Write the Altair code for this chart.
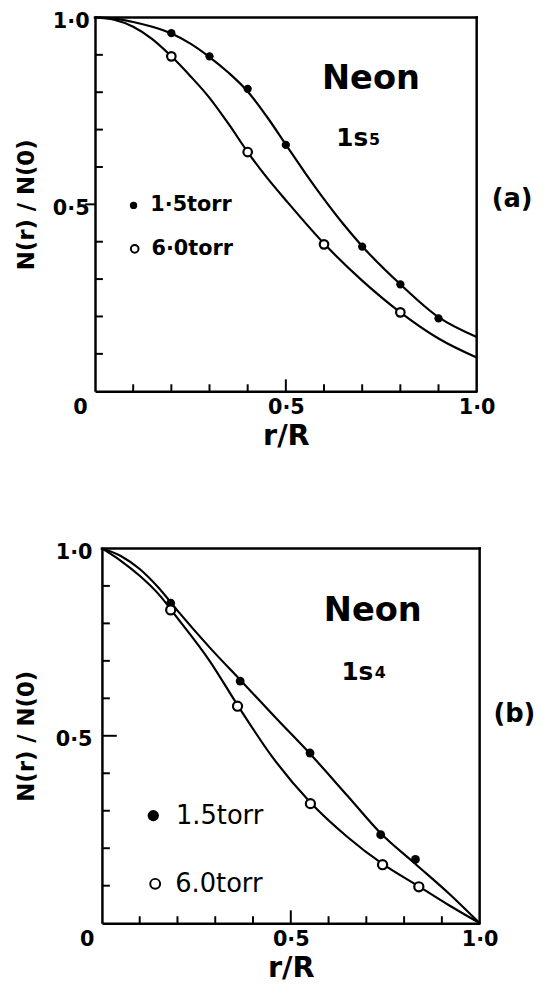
import altair as alt
import pandas as pd

# ---------------- Panel (a): Neon 1s5 ----------------
a_pts15_x = [0.2, 0.3, 0.4, 0.5, 0.7, 0.8, 0.9]
a_pts15_y = [0.958, 0.896, 0.809, 0.659, 0.387, 0.286, 0.195]
a_pts60_x = [0.2, 0.4, 0.6, 0.8]
a_pts60_y = [0.896, 0.640, 0.393, 0.211]
a_cur15_x = [0.0, 0.05, 0.1, 0.15, 0.2, 0.25, 0.3, 0.35, 0.4, 0.45, 0.5, 0.55, 0.6, 0.65,
             0.7, 0.8, 0.9, 1.0]
a_cur15_y = [1.0, 0.997, 0.988, 0.975, 0.957, 0.930, 0.894, 0.852, 0.802, 0.735, 0.660,
             0.585, 0.514, 0.448, 0.388, 0.286, 0.198, 0.145]
a_cur60_x = [0.0, 0.05, 0.1, 0.15, 0.2, 0.25, 0.3, 0.35, 0.4, 0.45, 0.5, 0.6, 0.7, 0.8,
             0.9, 1.0]
a_cur60_y = [1.0, 0.994, 0.975, 0.942, 0.896, 0.843, 0.785, 0.715, 0.640, 0.572, 0.511,
             0.395, 0.296, 0.211, 0.141, 0.090]

# ---------------- Panel (b): Neon 1s4 ----------------
b_pts15_x = [0.182, 0.366, 0.551, 0.738, 0.830]
b_pts15_y = [0.854, 0.646, 0.454, 0.236, 0.170]
b_pts60_x = [0.182, 0.359, 0.552, 0.743, 0.839]
b_pts60_y = [0.836, 0.579, 0.319, 0.156, 0.097]
b_cur15_x = [0.0, 0.05, 0.1, 0.15, 0.2, 0.285, 0.37, 0.46, 0.551, 0.65, 0.738, 0.83, 0.92, 1.0]
b_cur15_y = [1.0, 0.980, 0.945, 0.895, 0.834, 0.736, 0.645, 0.548, 0.452, 0.340, 0.240,
             0.158, 0.078, 0.0]
b_cur60_x = [0.0, 0.05, 0.1, 0.15, 0.2, 0.285, 0.359, 0.45, 0.552, 0.65, 0.743, 0.839, 0.92, 1.0]
b_cur60_y = [1.0, 0.967, 0.927, 0.878, 0.814, 0.700, 0.582, 0.445, 0.322, 0.230, 0.158,
             0.098, 0.047, 0.0]

# tick values
minor_ticks = [0.1, 0.2, 0.3, 0.4, 0.6, 0.7, 0.8, 0.9]
major_ticks = [0.5]

# annotation texts
species = "Neon"
level_a, sub_a = "1s", "5"
level_b, sub_b = "1s", "4"
tag_a, tag_b = "(a)", "(b)"
leg_a = ["1·5torr", "6·0torr"]
leg_b = ["1.5torr", "6.0torr"]

FONT = "DejaVu Sans"


def xy(xs, ys):
    return pd.DataFrame({"x": xs, "y": ys})


def panel(W, H, shift, cur15, cur60, pts15, pts60, texts, legpos, legtxt, legfont,
          tick_y_major_out, y_major_len, x_major_len, label_pad, title_pad,
          dot_size, open_size, leg_dot_size, leg_open_size):
    xs = alt.Scale(domain=[0, 1], nice=False, zero=False, range=[shift, W + shift])
    ys = alt.Scale(domain=[0, 1], nice=False, zero=False)
    xaxis = alt.Axis(
        values=[0, 0.5, 1.0], title="r/R",
        labelExpr="datum.value == 0 ? '0' : replace(format(datum.value, '.1f'), '.', '·')",
        labelAlign={"condition": {"test": "datum.value == 0", "value": "right"}, "value": "center"},
        labelOffset={"condition": {"test": "datum.value == 0", "value": -8}, "value": 0},
        labelPadding=6, titlePadding=4,
    )
    yaxis = alt.Axis(
        values=[0.5, 1.0], title="N(r) / N(0)",
        labelExpr="replace(format(datum.value, '.1f'), '.', '·')",
        labelOffset=4, labelPadding=label_pad, titlePadding=title_pad, offset=-shift,
    )
    X = lambda f="x": alt.X(f"{f}:Q", scale=xs, axis=xaxis)
    Y = lambda f="y": alt.Y(f"{f}:Q", scale=ys, axis=yaxis)
    Xd = lambda v: alt.XDatum(v, scale=xs, axis=xaxis)
    Yd = lambda v: alt.YDatum(v, scale=ys, axis=yaxis)

    layers = []
    # frame: top and right edges (left/bottom are the axis lines)
    layers.append(alt.Chart(xy([0], [1])).mark_rule(color="black", strokeWidth=2.5,
                                                     strokeCap="square")
                  .encode(x=Xd(0), x2=alt.X2Datum(1), y=Yd(1)))
    layers.append(alt.Chart(xy([1], [0])).mark_rule(color="black", strokeWidth=2.5,
                                                     strokeCap="square")
                  .encode(x=Xd(1), y=Yd(0), y2=alt.Y2Datum(1)))
    for c in (cur15, cur60):
        layers.append(alt.Chart(c).mark_line(color="black", strokeWidth=2.2,
                                             interpolate="monotone").encode(x=X(), y=Y()))
    layers.append(alt.Chart(pts15).mark_circle(color="black", size=dot_size, opacity=1)
                  .encode(x=X(), y=Y()))
    layers.append(alt.Chart(pts60).mark_point(shape="circle", filled=True, fill="white",
                                              stroke="black", strokeWidth=2.2, size=open_size,
                                              opacity=1).encode(x=X(), y=Y()))
    # legend markers and texts
    (lx1, ly1, tx1), (lx2, ly2, tx2) = legpos
    layers.append(alt.Chart(xy([lx1], [ly1])).mark_circle(color="black", size=leg_dot_size, opacity=1)
                  .encode(x=X(), y=Y()))
    layers.append(alt.Chart(xy([lx2], [ly2])).mark_point(shape="circle", filled=True, fill="white",
                                                         stroke="black", strokeWidth=2,
                                                         size=leg_open_size, opacity=1)
                  .encode(x=X(), y=Y()))
    legdf = pd.DataFrame({"x": [tx1, tx2], "y": [ly1, ly2], "t": legtxt})
    layers.append(alt.Chart(legdf).mark_text(align="left", baseline="middle", font=FONT,
                                             fontSize=legfont[0], fontWeight=legfont[1],
                                             color="black")
                  .encode(x=X(), y=Y(), text="t:N"))
    # annotation texts
    for (tx, ty, t, size, weight, align, base) in texts:
        layers.append(alt.Chart(pd.DataFrame({"x": [tx], "y": [ty], "t": [t]}))
                      .mark_text(align=align, baseline=base, font=FONT, fontSize=size,
                                 fontWeight=weight, color="black")
                      .encode(x=X(), y=Y(), text="t:N"))
    # ticks (inward), lengths expressed in pixels via the scale
    tk = pd.DataFrame({"x": minor_ticks, "y": minor_ticks})
    tkM = pd.DataFrame({"x": major_ticks, "y": major_ticks})
    layers.append(alt.Chart(tk).mark_rule(color="black", strokeWidth=2)
                  .encode(y=Y(), x=Xd(0), x2=alt.X2Datum(8 / W)))
    if tick_y_major_out:
        layers.append(alt.Chart(tkM).mark_rule(color="black", strokeWidth=2)
                      .encode(y=Y(), x=Xd(-y_major_len / W), x2=alt.X2Datum(0)))
    else:
        layers.append(alt.Chart(tkM).mark_rule(color="black", strokeWidth=2)
                      .encode(y=Y(), x=Xd(0), x2=alt.X2Datum(y_major_len / W)))
    layers.append(alt.Chart(tk).mark_rule(color="black", strokeWidth=2)
                  .encode(x=X(), y=Yd(0), y2=alt.Y2Datum(7 / H)))
    layers.append(alt.Chart(tkM).mark_rule(color="black", strokeWidth=2)
                  .encode(x=X(), y=Yd(0), y2=alt.Y2Datum(x_major_len / H)))
    return alt.layer(*layers).properties(width=W + shift, height=H)


texts_a = [
    (0.723, 0.835, species, 34, "bold", "center", "middle"),
    (0.632, 0.656, level_a, 25, "bold", "left", "alphabetic"),
    (0.718, 0.659, sub_a, 16, "bold", "left", "alphabetic"),
    (1.093, 0.513, tag_a, 26, "bold", "center", "middle"),
]
texts_b = [
    (0.717, 0.834, species, 34, "bold", "center", "middle"),
    (0.634, 0.650, level_b, 25, "bold", "left", "alphabetic"),
    (0.722, 0.653, sub_b, 16, "bold", "left", "alphabetic"),
    (1.092, 0.558, tag_b, 26, "bold", "center", "middle"),
]

pa = panel(386, 378, 0, xy(a_cur15_x, a_cur15_y), xy(a_cur60_x, a_cur60_y),
           xy(a_pts15_x, a_pts15_y), xy(a_pts60_x, a_pts60_y), texts_a,
           [(0.101, 0.497, 0.145), (0.104, 0.381, 0.148)], leg_a, (21, "bold"),
           True, 10, 12, 6, 14, 70, 75, 55, 60)
pb = panel(382, 379, 7, xy(b_cur15_x, b_cur15_y), xy(b_cur60_x, b_cur60_y),
           xy(b_pts15_x, b_pts15_y), xy(b_pts60_x, b_pts60_y), texts_b,
           [(0.136, 0.287, 0.196), (0.141, 0.105, 0.194)], leg_b, (26, "normal"),
           False, 15, 13, 10, 17, 80, 85, 130, 100)

chart = alt.concat(pa, pb, columns=1, spacing=92, align="none").properties(
    padding={"left": 7, "top": -3, "right": 0, "bottom": 0}
).configure_view(strokeOpacity=0).configure_axis(
    grid=False, ticks=False, domainColor="black", domainWidth=2.5,
    labelFont=FONT, labelFontSize=21, labelFontWeight="bold", labelColor="black",
    titleFont=FONT, titleFontWeight="bold", titleColor="black",
).configure_axisX(titleFontSize=29).configure_axisY(titleFontSize=23)

chart.save("out.html", embed_options={"renderer": "svg", "actions": False})
